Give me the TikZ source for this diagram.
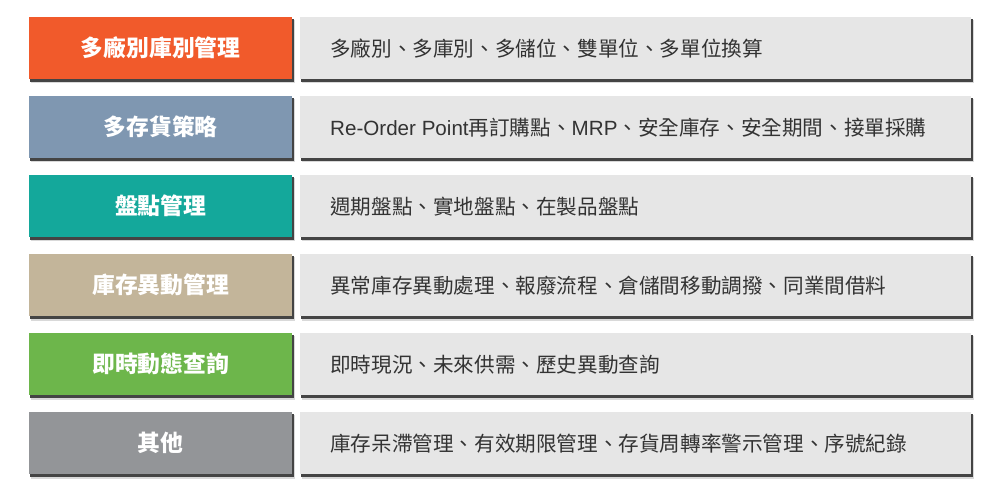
\documentclass[tikz,border=0pt]{standalone}
\usepackage{fontspec}
\setmainfont{Noto Sans CJK TC}
\newfontfamily\lat{Liberation Sans}
\definecolor{cOrange}{HTML}{F15A2B}
\definecolor{cSlate}{HTML}{7F97B1}
\definecolor{cTeal}{HTML}{14A89B}
\definecolor{cTan}{HTML}{C3B59A}
\definecolor{cGreen}{HTML}{6DB64B}
\definecolor{cGray}{HTML}{939598}
\definecolor{cPanel}{HTML}{E6E6E6}
\definecolor{cText}{HTML}{333333}
\definecolor{cShadow}{HTML}{444444}
\begin{document}
\begin{tikzpicture}[x=1pt,y=-1pt,
  catbox/.style={minimum width=263pt,minimum height=62pt,inner sep=0pt,anchor=north west,
    text=white,font=\fontsize{22.8}{26}\selectfont\bfseries},
  descbox/.style={fill=cPanel,minimum width=671pt,minimum height=62pt,inner sep=0pt,anchor=north west},
  desctext/.style={anchor=west,text=cText,font=\fontsize{20.6}{24}\selectfont,inner sep=0pt},
  shadowA/.style={fill=cShadow},
  shadowB/.style={fill=black,opacity=0.15}]
\useasboundingbox[fill=white] (0,0) rectangle (1000,502);
\foreach \i in {0,...,5}{
  \pgfmathsetmacro{\t}{17+79*\i}
  \fill[shadowB] (31,\t+3) rectangle (294.5,\t+66.5);
  \fill[shadowA] (30,\t+2) rectangle (293.5,\t+65);
  \fill[shadowB] (302,\t+3) rectangle (973.5,\t+66.5);
  \fill[shadowA] (301,\t+2) rectangle (972.5,\t+65);
}
\node[catbox,fill=cOrange] (c1) at (29,17) {多廠別庫別管理};
\node[catbox,fill=cSlate] (c2) at (29,96) {多存貨策略};
\node[catbox,fill=cTeal] (c3) at (29,175) {盤點管理};
\node[catbox,fill=cTan] (c4) at (29,254) {庫存異動管理};
\node[catbox,fill=cGreen] (c5) at (29,333) {即時動態查詢};
\node[catbox,fill=cGray] (c6) at (29,412) {其他};
\node[descbox] (d1) at (300,17) {};
\node[descbox] (d2) at (300,96) {};
\node[descbox] (d3) at (300,175) {};
\node[descbox] (d4) at (300,254) {};
\node[descbox] (d5) at (300,333) {};
\node[descbox] (d6) at (300,412) {};
\node[desctext] (t1) at ([xshift=30pt]d1.west) {多廠別、多庫別、多儲位、雙單位、多單位換算};
\node[desctext] (t2) at ([xshift=30pt]d2.west) {{\lat Re-Order Point}再訂購點、{\lat MRP}、安全庫存、安全期間、接單採購};
\node[desctext] (t3) at ([xshift=30pt]d3.west) {週期盤點、實地盤點、在製品盤點};
\node[desctext] (t4) at ([xshift=30pt]d4.west) {異常庫存異動處理、報廢流程、倉儲間移動調撥、同業間借料};
\node[desctext] (t5) at ([xshift=30pt]d5.west) {即時現況、未來供需、歷史異動查詢};
\node[desctext] (t6) at ([xshift=30pt]d6.west) {庫存呆滯管理、有效期限管理、存貨周轉率警示管理、序號紀錄};
\end{tikzpicture}
\end{document}
